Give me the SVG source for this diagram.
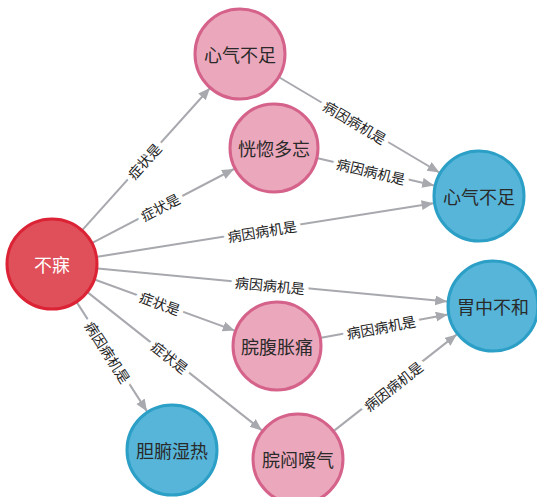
<svg xmlns="http://www.w3.org/2000/svg" width="537" height="497" viewBox="0 0 537 497">
<style>
.bg{fill:#ffffff}
.edge line{stroke:#a8a9ae;stroke-width:2;fill:none;marker-end:url(#arr)}
.elabel{font-family:"Noto Sans CJK SC","Noto Sans",sans-serif;font-size:14px;fill:#222;text-anchor:middle;dominant-baseline:central;stroke:#ffffff;stroke-width:9;stroke-linejoin:round;paint-order:stroke}
.node circle{stroke-width:3}
.node text{font-family:"Noto Sans CJK SC","Noto Sans",sans-serif;font-size:18px;text-anchor:middle;dominant-baseline:central;fill:#2a2a2a}
.red circle{fill:#e0505a;stroke:#dc2335}
.red text{fill:#ffffff}
.pink circle{fill:#eba7bb;stroke:#d5628a}
.blue circle{fill:#56b5d9;stroke:#2c9fc6}
</style>
<defs>
<marker id="arr" markerUnits="userSpaceOnUse" markerWidth="13" markerHeight="11" refX="12" refY="5" orient="auto">
<path d="M0,0 L12,5 L0,10 z" fill="#a8a9ae"/>
</marker>
</defs>
<rect class="bg" x="0" y="0" width="537" height="497"/>
<g id="edges" class="edge">
<line x1="82.7" y1="229.7" x2="210" y2="88"/>
<line x1="92.8" y1="242.7" x2="234" y2="169"/>
<line x1="97.4" y1="256.8" x2="433.6" y2="203.2"/>
<line x1="97.8" y1="268.4" x2="447.2" y2="301.6"/>
<line x1="95.2" y1="279.7" x2="234.7" y2="330.6"/>
<line x1="88" y1="292.6" x2="262" y2="430.4"/>
<line x1="77" y1="302.6" x2="147" y2="411.4"/>
<line x1="279.5" y1="77.5" x2="439.4" y2="172.5"/>
<line x1="317.8" y1="158.3" x2="434.2" y2="185.5"/>
<line x1="321.2" y1="337.8" x2="447.8" y2="314.4"/>
<line x1="334.2" y1="430.6" x2="456.8" y2="334.4"/>
<text class="elabel" transform="translate(144,161) rotate(-48.2)">症状是</text>
<text class="elabel" transform="translate(160,207) rotate(-27.6)">症状是</text>
<text class="elabel" transform="translate(262,231) rotate(-9.05)">病因病机是</text>
<text class="elabel" transform="translate(270,285) rotate(5.44)">病因病机是</text>
<text class="elabel" transform="translate(160,303) rotate(20)">症状是</text>
<text class="elabel" transform="translate(170,357) rotate(38.4)">症状是</text>
<text class="elabel" transform="translate(108,352) rotate(57.2)">病因病机是</text>
<text class="elabel" transform="translate(355,122) rotate(30.7)">病因病机是</text>
<text class="elabel" transform="translate(371,171) rotate(13.2)">病因病机是</text>
<text class="elabel" transform="translate(381,327) rotate(-10.5)">病因病机是</text>
<text class="elabel" transform="translate(393,386) rotate(-38.1)">病因病机是</text>
</g>
<g id="node-bumei" class="node red"><circle cx="52" cy="264" r="45"/><text x="52" y="264">不寐</text></g>
<g id="node-xinqi-symptom" class="node pink"><circle cx="240" cy="54" r="45"/><text x="240" y="54">心气不足</text></g>
<g id="node-huanghu" class="node pink"><circle cx="274" cy="148" r="44"/><text x="274" y="148">恍惚多忘</text></g>
<g id="node-xinqi-cause" class="node blue"><circle cx="479" cy="196" r="45"/><text x="479" y="196">心气不足</text></g>
<g id="node-weizhong" class="node blue"><circle cx="493" cy="306" r="45"/><text x="493" y="306">胃中不和</text></g>
<g id="node-wanfu" class="node pink"><circle cx="277" cy="346" r="44"/><text x="277" y="346">脘腹胀痛</text></g>
<g id="node-danfu" class="node blue"><circle cx="172" cy="450" r="45"/><text x="172" y="450">胆腑湿热</text></g>
<g id="node-wanmen" class="node pink"><circle cx="298" cy="459" r="45"/><text x="298" y="459">脘闷嗳气</text></g>
</svg>
